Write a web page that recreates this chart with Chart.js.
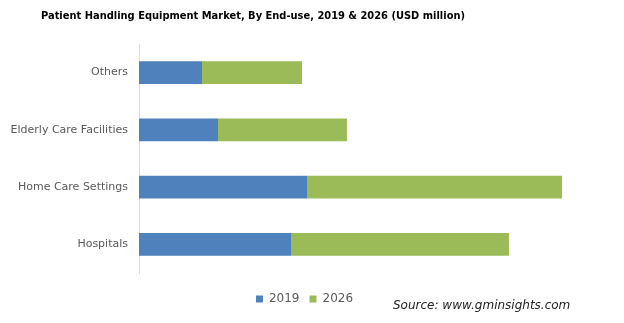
<!DOCTYPE html>
<html>
<head>
<meta charset="utf-8">
<script src="https://cdn.jsdelivr.net/npm/chart.js@4"></script>
<style>
  html, body { margin: 0; padding: 0; background: #fff; }
  #wrap { width: 624px; height: 323px; }
</style>
</head>
<body>
<div id="wrap"><canvas id="chart" width="624" height="323"></canvas></div>
<script>
// values (USD million, estimated)
const categories = ['Others', 'Elderly Care Facilities', 'Home Care Settings', 'Hospitals'];
const values2019 = [630, 790, 1680, 1520];
const values2026 = [1000, 1290, 2550, 2180];
const seriesNames = ['2019', '2026'];

const titleText = 'Patient Handling Equipment Market, By End-use, 2019 & 2026 (USD million)';
const sourceText = 'Source: www.gminsights.com';

// title and source line drawn on the canvas
const textPlugin = {
    id: 'textPlugin',
    afterDraw(chart) {
        const ctx = chart.ctx;
        ctx.save();
        ctx.fillStyle = '#000';
        ctx.font = 'bold 11px "DejaVu Sans Condensed", "DejaVu Sans"';
        ctx.textBaseline = 'middle';
        ctx.textAlign = 'left';
        ctx.fillText(titleText, 41, 16);
        ctx.fillStyle = '#222';
        ctx.font = 'italic 12px "DejaVu Sans"';
        ctx.fillText(sourceText, 393, 306);
        ctx.restore();
    }
};

const ctx = document.getElementById('chart').getContext('2d');

new Chart(ctx, {
    type: 'bar',
    data: {
        labels: categories,
        datasets: [{
            label: seriesNames[0],
            data: values2019,
            backgroundColor: '#4f81bd'
        }, {
            label: seriesNames[1],
            data: values2026,
            backgroundColor: '#9bbb59'
        }]
    },
    plugins: [textPlugin],
    options: {
        indexAxis: 'y',
        responsive: false,
        animation: false,
        barPercentage: 0.4,
        categoryPercentage: 1,
        layout: {
            padding: { top: 44, right: 15, bottom: 8, left: 0 }
        },
        scales: {
            x: {
                stacked: true,
                min: 0,
                max: 4700,
                grid: { display: false },
                border: { display: false },
                ticks: { display: false },
                afterFit(scale) {
                    scale.height = 10;
                }
            },
            y: {
                stacked: true,
                grid: { display: false, drawTicks: false },
                border: { color: '#d9d9d9' },
                ticks: {
                    color: '#595959',
                    padding: 11,
                    font: { family: '"DejaVu Sans"', size: 11 }
                },
                afterFit(scale) {
                    scale.width = 139;
                }
            }
        },
        plugins: {
            legend: {
                position: 'bottom',
                labels: {
                    boxWidth: 7,
                    boxHeight: 7,
                    padding: 10,
                    color: '#595959',
                    font: { family: '"DejaVu Sans"', size: 12 }
                }
            },
            tooltip: { enabled: false }
        }
    }
});
</script>
</body>
</html>
